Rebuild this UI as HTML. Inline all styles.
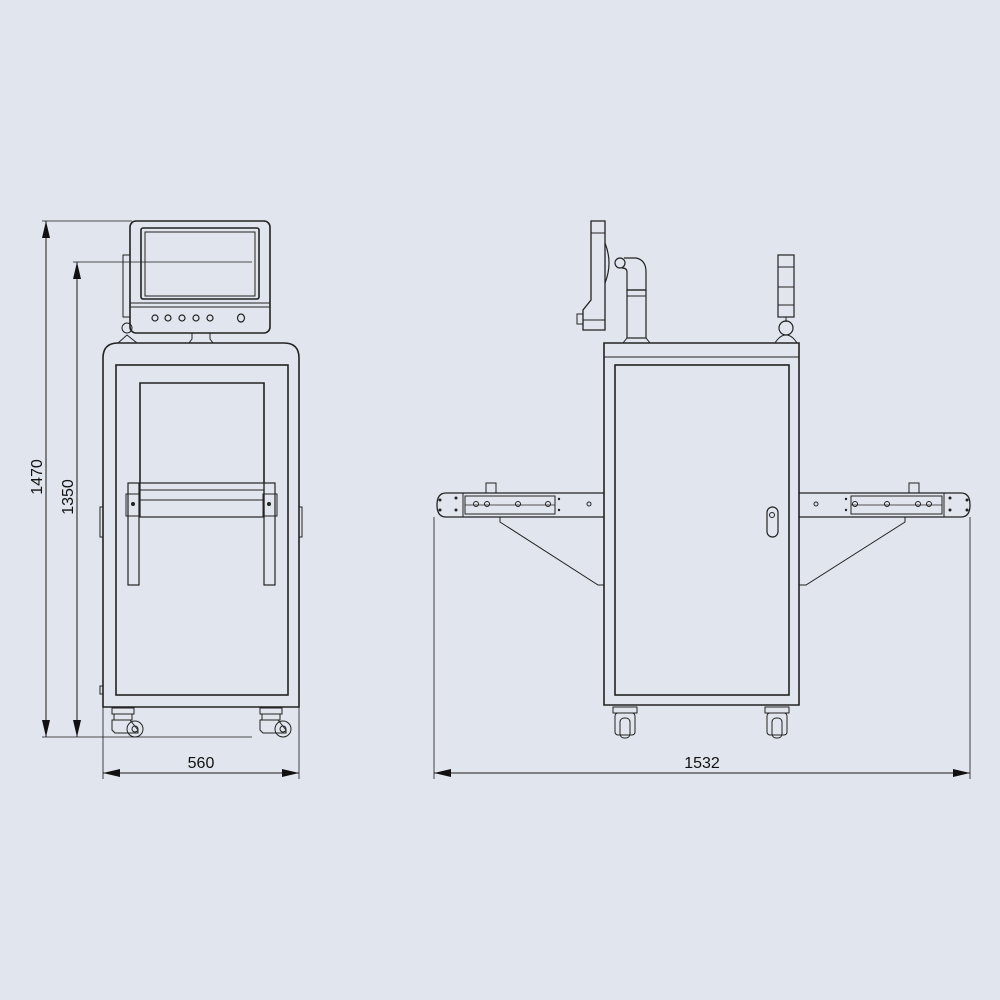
<!DOCTYPE html>
<html><head><style>
html,body{margin:0;padding:0;background:#e1e6ee;}
svg{display:block}
text{font-family:"Liberation Sans",Arial,sans-serif;fill:#111}
</style></head><body>
<svg width="1000" height="1000" viewBox="0 0 1000 1000" xmlns="http://www.w3.org/2000/svg">
<rect width="1000" height="1000" fill="#e1e6ee"/>
<g fill="none" stroke="#1a1a1a" stroke-width="1">
<!-- dimension lines left -->
<line x1="42" y1="221" x2="132" y2="221" stroke-width="0.8"/>
<line x1="73" y1="262" x2="252" y2="262" stroke-width="0.8"/>
<line x1="42" y1="737" x2="252" y2="737" stroke-width="0.8"/>
<line x1="46" y1="221" x2="46" y2="737"/>
<line x1="77" y1="262" x2="77" y2="737"/>
<!-- 560 -->
<line x1="103" y1="707" x2="103" y2="779" stroke-width="0.8"/>
<line x1="299" y1="707" x2="299" y2="779" stroke-width="0.8"/>
<line x1="103" y1="773" x2="299" y2="773"/>
<!-- 1532 -->
<line x1="434" y1="517" x2="434" y2="779" stroke-width="0.8"/>
<line x1="970" y1="517" x2="970" y2="779" stroke-width="0.8"/>
<line x1="434" y1="773" x2="970" y2="773"/>
</g>
<g fill="#111">
<polygon points="46,221 42,238 50,238"/>
<polygon points="46,737 42,720 50,720"/>
<polygon points="77,262 73,279 81,279"/>
<polygon points="77,737 73,720 81,720"/>
<polygon points="103,773 120,769 120,777"/>
<polygon points="299,773 282,769 282,777"/>
<polygon points="434,773 451,769 451,777"/>
<polygon points="970,773 953,769 953,777"/>
</g>
<text x="45" y="480" font-size="16" text-anchor="middle" transform="rotate(-90 42 480)">1470</text>
<text x="76" y="500" font-size="16" text-anchor="middle" transform="rotate(-90 73 500)">1350</text>
<text x="201" y="768" font-size="16" text-anchor="middle">560</text>
<text x="702" y="768" font-size="16" text-anchor="middle">1532</text>

<g fill="none" stroke="#222" stroke-width="1.6">
<!-- LEFT VIEW -->
<!-- monitor -->
<rect x="130" y="221" width="140" height="112" rx="6"/>
<rect x="141" y="228" width="118" height="71" rx="2"/>
<rect x="145" y="232" width="110" height="64" stroke-width="1"/>
<line x1="130" y1="303" x2="270" y2="303" stroke-width="1"/>
<line x1="130" y1="307" x2="270" y2="307" stroke-width="1"/>
<g stroke-width="1.2">
<circle cx="155" cy="318" r="3"/><circle cx="168" cy="318" r="3"/><circle cx="182" cy="318" r="3"/><circle cx="196" cy="318" r="3"/><circle cx="210" cy="318" r="3"/>
<ellipse cx="241" cy="318" rx="3.5" ry="4"/>
</g>
<rect x="123" y="255" width="7" height="62" stroke-width="1"/>
<circle cx="127" cy="328" r="5" stroke-width="1"/>
<path d="M118,343 L127,335 L137,343 Z" stroke-width="1"/>
<path d="M192,333 L192,339 L189,343 L213,343 L210,339 L210,333" stroke-width="1"/>
<!-- cabinet -->
<path d="M103,707 L103,358 Q103,343 118,343 L284,343 Q299,343 299,358 L299,707 Z"/>
<rect x="116" y="365" width="172" height="330"/>
<polyline points="140,483 140,383 264,383 264,483"/>
<rect x="140" y="483" width="124" height="34" stroke-width="1.2"/>
<line x1="140" y1="490" x2="264" y2="490" stroke-width="1"/>
<line x1="140" y1="500" x2="264" y2="500" stroke-width="1"/>
<rect x="128" y="483" width="11" height="102" stroke-width="1.2"/>
<rect x="264" y="483" width="11" height="102" stroke-width="1.2"/>
<rect x="126" y="494" width="14" height="22" stroke-width="1"/>
<rect x="263" y="494" width="14" height="22" stroke-width="1"/>
<rect x="100" y="507" width="3" height="30" stroke-width="1"/>
<rect x="299" y="507" width="3" height="30" stroke-width="1"/>
<rect x="100" y="686" width="3" height="8" stroke-width="1"/>
<!-- casters left -->
<g stroke-width="1">
<rect x="112" y="708" width="22" height="6"/><rect x="114" y="714" width="18" height="6"/>
<path d="M112,720 L130,720 L138,730 L138,733 L115,733 L112,730 Z"/>
<circle cx="135" cy="729" r="8"/><circle cx="135" cy="729" r="3"/>
<rect x="260" y="708" width="22" height="6"/><rect x="262" y="714" width="18" height="6"/>
<path d="M260,720 L278,720 L286,730 L286,733 L263,733 L260,730 Z"/>
<circle cx="283" cy="729" r="8"/><circle cx="283" cy="729" r="3"/>
</g>

<!-- RIGHT VIEW -->
<!-- side monitor -->
<path d="M591,221 L605,221 L605,330 L583,330 L583,310 L591,300 Z" stroke-width="1.3"/>
<line x1="591" y1="233" x2="605" y2="233" stroke-width="1"/>
<line x1="583" y1="320" x2="605" y2="320" stroke-width="1"/>
<rect x="577" y="314" width="6" height="10" stroke-width="1"/>
<path d="M605,243 Q613,263 605,283" stroke-width="1.2"/>
<circle cx="620" cy="263" r="5" stroke-width="1.2"/>
<path d="M624,258 L636,258 Q646,260 646,272 L646,290 L627,290 L627,272 Q627,268 622,268" stroke-width="1.2"/>
<rect x="627" y="290" width="19" height="48" stroke-width="1.2"/>
<line x1="627" y1="296" x2="646" y2="296" stroke-width="1"/>
<path d="M627,338 L623,343 L650,343 L646,338 Z" stroke-width="1"/>
<!-- signal tower -->
<rect x="778" y="255" width="16" height="62" stroke-width="1.2"/>
<line x1="778" y1="267" x2="794" y2="267" stroke-width="1"/>
<line x1="778" y1="287" x2="794" y2="287" stroke-width="1"/>
<line x1="778" y1="305" x2="794" y2="305" stroke-width="1"/>
<line x1="786" y1="317" x2="786" y2="322" stroke-width="1"/>
<circle cx="786" cy="328" r="7" stroke-width="1.2"/>
<path d="M775,343 Q780,335 786,335 Q792,335 797,343" stroke-width="1"/>
<!-- cabinet -->
<path d="M604,705 L604,343 L799,343 L799,705 Z"/>
<line x1="604" y1="357" x2="799" y2="357" stroke-width="1"/>
<rect x="615" y="365" width="174" height="330"/>
<rect x="767" y="507" width="11" height="30" rx="5.5" stroke-width="1.2"/>
<circle cx="772" cy="515" r="2.5" stroke-width="1"/>
<!-- left arm -->
<path d="M604,493 L446,493 Q437,493 437,505 Q437,517 446,517 L604,517" stroke-width="1.3"/>
<line x1="463" y1="493" x2="463" y2="517" stroke-width="1"/>
<rect x="465" y="496" width="90" height="18" stroke-width="1"/>
<line x1="465" y1="505" x2="555" y2="505" stroke-width="0.8"/>
<rect x="486" y="483" width="10" height="10" stroke-width="1"/>
<polyline points="500,517 500,522 598,585 604,585" stroke-width="1"/>
<g stroke-width="1"><circle cx="476" cy="504" r="2.5"/><circle cx="487" cy="504" r="2.5"/><circle cx="518" cy="504" r="2.5"/><circle cx="548" cy="504" r="2.5"/><circle cx="589" cy="504" r="2"/></g>
<!-- right arm -->
<path d="M799,493 L961,493 Q970,493 970,505 Q970,517 961,517 L799,517" stroke-width="1.3"/>
<line x1="944" y1="493" x2="944" y2="517" stroke-width="1"/>
<rect x="851" y="496" width="91" height="18" stroke-width="1"/>
<line x1="851" y1="505" x2="942" y2="505" stroke-width="0.8"/>
<rect x="909" y="483" width="10" height="10" stroke-width="1"/>
<polyline points="905,517 905,522 806,585 799,585" stroke-width="1"/>
<g stroke-width="1"><circle cx="855" cy="504" r="2.5"/><circle cx="887" cy="504" r="2.5"/><circle cx="918" cy="504" r="2.5"/><circle cx="929" cy="504" r="2.5"/><circle cx="816" cy="504" r="2"/></g>
<!-- casters right -->
<g stroke-width="1">
<rect x="613" y="707" width="24" height="6"/>
<rect x="615" y="713" width="20" height="22" rx="3"/>
<rect x="620" y="718" width="10" height="20" rx="4"/>
<rect x="765" y="707" width="24" height="6"/>
<rect x="767" y="713" width="20" height="22" rx="3"/>
<rect x="772" y="718" width="10" height="20" rx="4"/>
</g>
</g>
<g fill="#222">
<circle cx="440" cy="500" r="1.5"/><circle cx="440" cy="510" r="1.5"/><circle cx="456" cy="498" r="1.5"/><circle cx="456" cy="510" r="1.5"/>
<circle cx="559" cy="499" r="1.2"/><circle cx="559" cy="510" r="1.2"/>
<circle cx="967" cy="500" r="1.5"/><circle cx="967" cy="510" r="1.5"/><circle cx="950" cy="498" r="1.5"/><circle cx="950" cy="510" r="1.5"/>
<circle cx="846" cy="499" r="1.2"/><circle cx="846" cy="510" r="1.2"/>
<circle cx="133" cy="504" r="2"/><circle cx="269" cy="504" r="2"/>
</g>
</svg>
</body></html>
